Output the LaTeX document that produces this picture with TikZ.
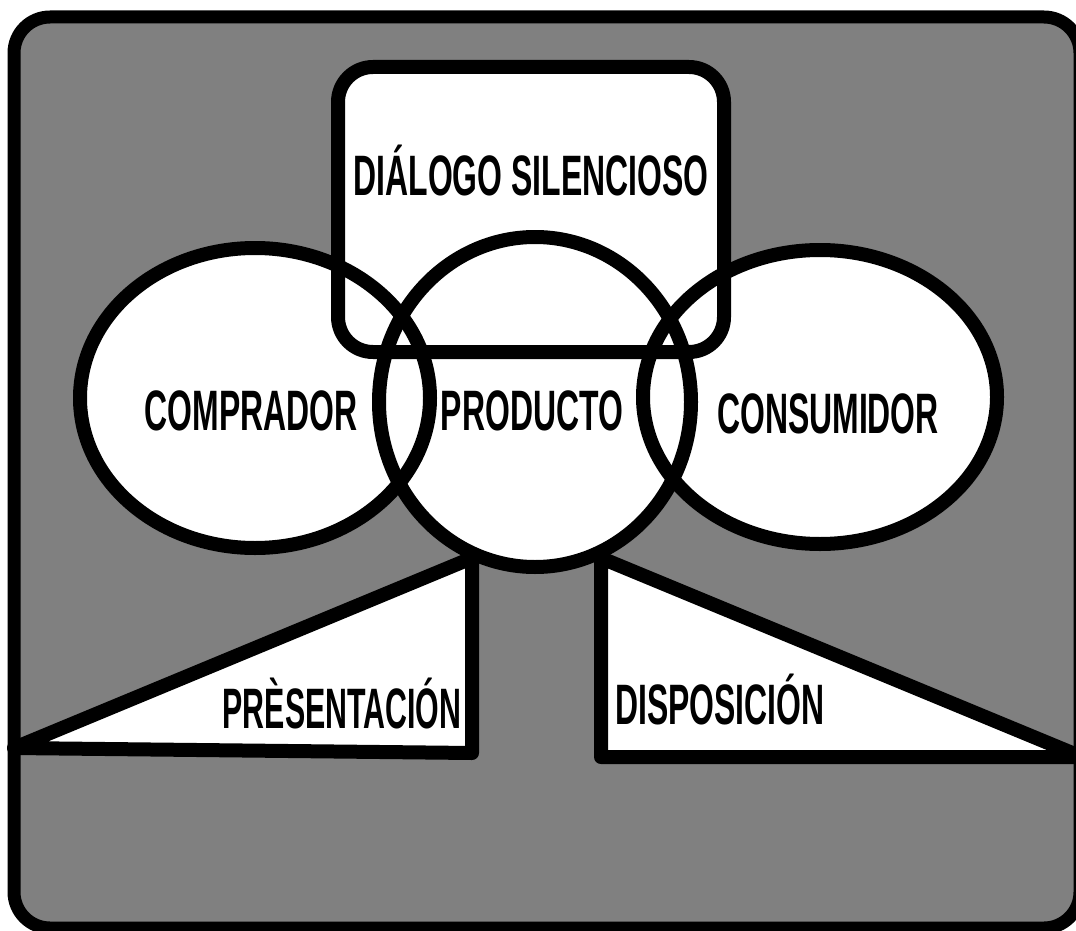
\documentclass[tikz,border=0pt]{standalone}
\usepackage{fontspec}
\setmainfont{Liberation Sans}[FakeStretch=0.56]
\usetikzlibrary{positioning}
\definecolor{panelgray}{RGB}{128,128,128}

\begin{document}
\begin{tikzpicture}[x=1pt, y=-1pt,
	outline/.style={line width=14pt, line join=round},
	tag/.style={font=\fontsize{57}{60}\selectfont\bfseries, inner sep=0pt}]
	\useasboundingbox (0,0) rectangle (1076,931);

	% panel
	\draw[line width=13pt, fill=panelgray, rounded corners=36pt] (14,17) rectangle (1080,928);

	% triangle corners
	\coordinate (pl) at (14,748);
	\coordinate (pt) at (472,558);
	\coordinate (pb) at (472,753);
	\coordinate (dt) at (601,558);
	\coordinate (dr) at (1082,757);
	\coordinate (db) at (601,757);

	% white areas
	\fill[white] (pl) -- (pt) -- (pb) -- cycle;
	\fill[white] (dt) -- (dr) -- (db) -- cycle;
	\fill[white, rounded corners=35pt] (338,67) rectangle (724,352);
	\fill[white] (255,398) ellipse [x radius=175, y radius=150];
	\fill[white] (820,397) ellipse [x radius=177, y radius=147];
	\fill[white] (535,402) ellipse [x radius=156, y radius=165];

	% outlines
	\draw[outline] (pl) -- (pt) -- (pb) -- cycle;
	\draw[outline] (dt) -- (dr) -- (db) -- cycle;
	\draw[outline, rounded corners=35pt] (338,67) rectangle (724,352);
	\draw[outline] (255,398) ellipse [x radius=175, y radius=150];
	\draw[outline] (820,397) ellipse [x radius=177, y radius=147];
	\draw[outline] (535,402) ellipse [x radius=156, y radius=165];

	\node[tag] (dialogo) at (531,171) {DIÁLOGO SILENCIOSO};
	\node[tag] (comprador) at (251,411) {COMPRADOR};
	\node[tag] (producto) at (532,411) {PRODUCTO};
	\node[tag] (consumidor) at (828,414) {CONSUMIDOR};
	\node[tag] (presentacion) at (342,704) {\scalebox{0.95}[1]{PRÈSENTACIÓN}};
	\node[tag] (disposicion) at (720,700) {DISPOSICIÓN};
\end{tikzpicture}
\end{document}
